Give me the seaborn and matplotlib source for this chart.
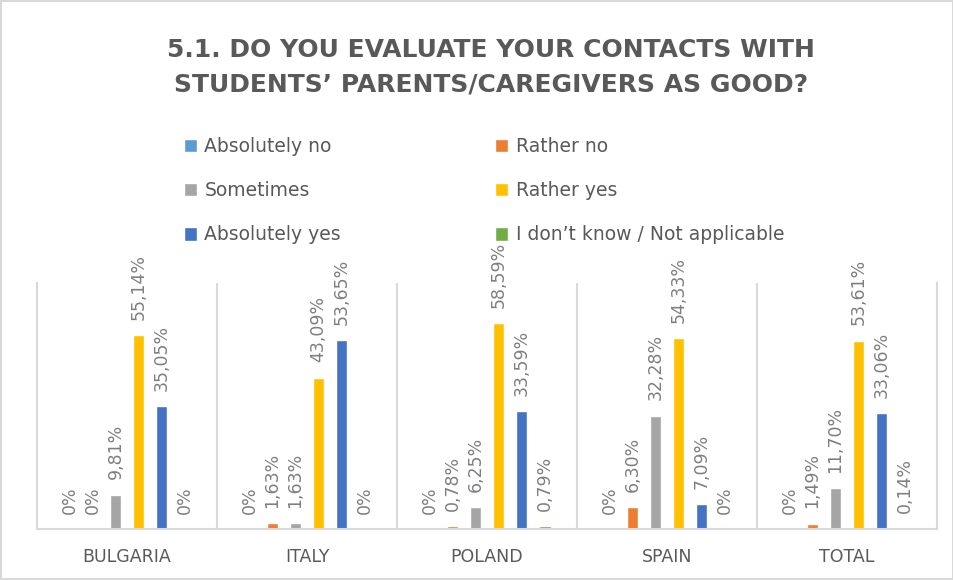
import pandas as pd
import seaborn as sns
import matplotlib.pyplot as plt

# chart data
countries = ["BULGARIA", "ITALY", "POLAND", "SPAIN", "TOTAL"]
answers = ["Absolutely no", "Rather no", "Sometimes", "Rather yes",
           "Absolutely yes", "I don\u2019t know / Not applicable"]
bulgaria = [0, 0, 9.81, 55.14, 35.05, 0]
italy = [0, 1.63, 1.63, 43.09, 53.65, 0]
poland = [0, 0.78, 6.25, 58.59, 33.59, 0.79]
spain = [0, 6.30, 32.28, 54.33, 7.09, 0]
total = [0, 1.49, 11.70, 53.61, 33.06, 0.14]
colors = ["#5B9BD5", "#ED7D31", "#A5A5A5", "#FFC000", "#4472C4", "#70AD47"]

rows = []
for country, vals in zip(countries, [bulgaria, italy, poland, spain, total]):
    for ans, v in zip(answers, vals):
        rows.append({"country": country, "answer": ans, "value": v})
df = pd.DataFrame(rows)

sns.set_style("white")
plt.rcParams["font.family"] = ["DejaVu Sans"]
text_col = "#595959"

fig = plt.figure(figsize=(9.54, 5.8), dpi=100)
fig.patch.set_edgecolor("#D9D9D9")
fig.patch.set_linewidth(1.5)
ax = fig.add_axes([37 / 954, 1 - 529 / 580, 900 / 954, 246 / 580])

sns.barplot(data=df, x="country", y="value", hue="answer", hue_order=answers,
            palette=colors, width=0.767, gap=0.48, ax=ax, errorbar=None,
            saturation=1)

ax.set_ylim(0, 70)
ax.set_xlim(-0.5, len(countries) - 0.5)
ax.set_yticks([])
ax.set_xlabel("")
ax.set_ylabel("")

# value labels
for cont, ans in zip(ax.containers, answers):
    vals = df[df["answer"] == ans]["value"].tolist()
    labs = [("%.2f" % v).replace(".", ",") + "%" if v else "0%" for v in vals]
    ax.bar_label(cont, labels=labs, rotation=90, padding=11, fontsize=12.5,
                 color="#7F7F7F")

# separators between groups
for x in range(1, len(countries)):
    ax.axvline(x - 0.5, color="#D9D9D9", lw=1.5, zorder=0)
ax.spines["top"].set_visible(False)
for side in ["left", "right", "bottom"]:
    ax.spines[side].set_color("#D9D9D9")
    ax.spines[side].set_linewidth(1.5)
ax.tick_params(axis="x", length=0, pad=14, labelsize=12.5, labelcolor=text_col)

# legend in row order
handles, labels = ax.get_legend_handles_labels()
ax.get_legend().remove()
order = [0, 2, 4, 1, 3, 5]
fig.legend([handles[i] for i in order], [labels[i] for i in order],
           ncol=2, loc="upper left", bbox_to_anchor=(167 / 954, 1 - 120 / 580),
           frameon=False, fontsize=13.5, labelcolor=text_col,
           handlelength=0.7, handleheight=0.7, handletextpad=0.4,
           labelspacing=1.35, columnspacing=8.2)

fig.text(0.515, 1 - 50 / 580, "5.1. DO YOU EVALUATE YOUR CONTACTS WITH",
         ha="center", va="center", fontsize=18, fontweight="bold", color=text_col)
fig.text(0.515, 1 - 85 / 580, "STUDENTS\u2019 PARENTS/CAREGIVERS AS GOOD?",
         ha="center", va="center", fontsize=18, fontweight="bold", color=text_col)

fig.savefig("out.png", dpi=100)
